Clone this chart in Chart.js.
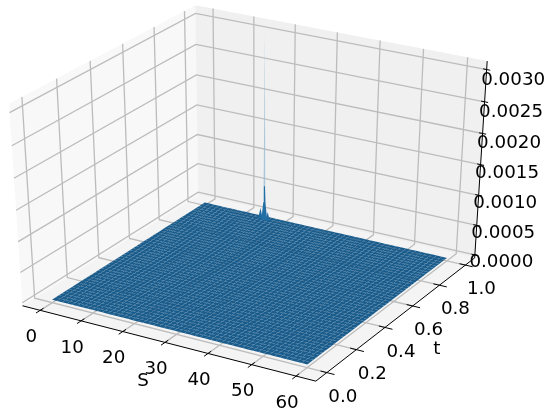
<!DOCTYPE html>
<html>
<head>
<meta charset="utf-8">
<style>
html,body{margin:0;padding:0;background:#fff;}
#wrap{width:558px;height:416px;}
</style>
<script src="https://cdn.jsdelivr.net/npm/chart.js@4/dist/chart.umd.min.js"></script>
</head>
<body>
<div id="wrap"><canvas id="chart" width="558" height="416"></canvas></div>
<script>
// values
let sTicks = [0,10,20,30,40,50,60];
let tTicks = [0.0,0.2,0.4,0.6,0.8,1.0];
let zTicks = [0,0.0005,0.001,0.0015,0.002,0.0025,0.003];
let sLabels = ["0","10","20","30","40","50","60"];
let tLabels = ["0.0","0.2","0.4","0.6","0.8","1.0"];
let zLabels = ["0.0000","0.0005","0.0010","0.0015","0.0020","0.0025","0.0030"];

// mesh nodes of the surface
let meshS = [0,1.22,2.45,3.67,4.9,6.12,7.35,8.57,9.8,11.02,12.24,13.47,14.69,15.92,17.14,18.37,19.59,20.82,22.04,23.27,24.49,25.71,26.94,28.16,29.39,30.61,31.84,33.06,34.29,35.51,36.73,37.96,39.18,40.41,41.63,42.86,44.08,45.31,46.53,47.76,48.98,50.2,51.43,52.65,53.88,55.1,56.33,57.55,58.78,60];
let meshT = [0,0.02,0.041,0.061,0.082,0.102,0.122,0.143,0.163,0.184,0.204,0.224,0.245,0.265,0.286,0.306,0.327,0.347,0.367,0.388,0.408,0.429,0.449,0.469,0.49,0.51,0.531,0.551,0.571,0.592,0.612,0.633,0.653,0.673,0.694,0.714,0.735,0.755,0.776,0.796,0.816,0.837,0.857,0.878,0.898,0.918,0.939,0.959,0.98,1];

// the spike near the back edge, the rest of the surface sits on zero
let spikeT = 0.97;
let paleSpikeS = [16.05,16.3,16.55];
let paleSpikeZ = [0,0.00304,0];
let bodySpikeS = [15.55,16.03,16.17,16.43,16.57,17.05];
let bodySpikeZ = [0,0.0003,0.00058,0.00058,0.0003,0];
let leftBumpS = [14.7,15.35,15.9];
let leftBumpZ = [0,0.00019,0];
let rightBumpS = [16.7,17.15,17.7];
let rightBumpZ = [0,0.00015,0];

let sRange = [-4.375,64.375];
let tRange = [-0.0729,1.0729];
let zRange = [-0.00005,0.00313];

let paneLeft = "#f8f8f8";
let paneBack = "#f0f0f0";
let paneFloor = "#f4f4f4";
let gridColor = "#bcbcbc";
let surfaceColor = "#1a5c8c";

// view of the axes box
let elev = 30 * Math.PI / 180;
let azim = -59.5 * Math.PI / 180;
let dist = 8;
let boxZ = 0.895;
let scaleX = 2715, scaleY = 2056, originX = 252.8, originY = 184.5;

function project(s, t, z){
  let x = (s - sRange[0]) / (sRange[1] - sRange[0]) - 0.5;
  let y = (t - tRange[0]) / (tRange[1] - tRange[0]) - 0.5;
  let h = ((z - zRange[0]) / (zRange[1] - zRange[0]) - 0.5) * boxZ;
  let wx = Math.cos(elev) * Math.cos(azim), wy = Math.cos(elev) * Math.sin(azim), wz = Math.sin(elev);
  let ux = -wy / Math.cos(elev), uy = wx / Math.cos(elev);
  let vx = -wz * uy, vy = wz * ux, vz = wx * uy - wy * ux;
  let d = dist - (x * wx + y * wy + h * wz);
  return {
    x: originX + scaleX * (x * ux + y * uy) / d,
    y: originY - scaleY * (x * vx + y * vy + h * vz) / d
  };
}

let datasets = [];

function addLine(points, color, width){
  datasets.push({data: points, showLine: true, borderColor: color, borderWidth: width, pointRadius: 0, fill: false, tension: 0});
}

function addShape(points, color){
  datasets.push({data: points, showLine: true, borderWidth: 0, borderColor: "transparent", backgroundColor: color, pointRadius: 0, fill: "shape", tension: 0});
}

function addSpike(sList, zList, color){
  let pts = sList.map(function(s, i){
    return project(s, spikeT, zList[i]);
  });
  pts.push(pts[0]);
  addShape(pts, color);
}

// panes
let s0 = sRange[0], s1 = sRange[1], t0 = tRange[0], t1 = tRange[1], z0 = zRange[0], z1 = zRange[1];
addShape([project(s0,t0,z0),project(s0,t1,z0),project(s0,t1,z1),project(s0,t0,z1),project(s0,t0,z0)], paneLeft);
addShape([project(s0,t1,z0),project(s1,t1,z0),project(s1,t1,z1),project(s0,t1,z1),project(s0,t1,z0)], paneBack);
addShape([project(s0,t0,z0),project(s1,t0,z0),project(s1,t1,z0),project(s0,t1,z0),project(s0,t0,z0)], paneFloor);

// grid on the panes
sTicks.forEach(function(s){
  addLine([project(s,t0,z0),project(s,t1,z0),project(s,t1,z1)], gridColor, 1.3);
});
tTicks.forEach(function(t){
  addLine([project(s0,t,z1),project(s0,t,z0),project(s1,t,z0)], gridColor, 1.3);
});
zTicks.forEach(function(z){
  addLine([project(s0,t0,z),project(s0,t1,z),project(s1,t1,z)], gridColor, 1.3);
});

// axis lines and tick marks
addLine([project(s0,t0,z0),project(s1,t0,z0)], "#000", 1);
addLine([project(s1,t0,z0),project(s1,t1,z0)], "#000", 1);
addLine([project(s1,t1,z0),project(s1,t1,z1)], "#000", 1);
sTicks.forEach(function(s){
  addLine([project(s,t0 + 0.02,z0),project(s,t0 - 0.025,z0)], "#000", 1);
});
tTicks.forEach(function(t){
  addLine([project(s1 - 1.4,t,z0),project(s1 + 1.7,t,z0)], "#000", 1);
});
zTicks.forEach(function(z){
  addLine([project(s1 - 0.8,t1,z),project(s1 + 0.8,t1,z)], "#000", 1);
});

// surface, back rows first
for(let j = meshT.length - 2; j >= 0; j--){
  for(let i = 0; i < meshS.length - 1; i++){
    addShape([
      project(meshS[i],meshT[j],0),
      project(meshS[i+1],meshT[j],0),
      project(meshS[i+1],meshT[j+1],0),
      project(meshS[i],meshT[j+1],0),
      project(meshS[i],meshT[j],0)
    ], surfaceColor);
  }
}

addSpike(paleSpikeS, paleSpikeZ, "rgba(150,185,210,0.75)");
addSpike(leftBumpS, leftBumpZ, "#1f6a9e");
addSpike(rightBumpS, rightBumpZ, "#1f6a9e");
addSpike(bodySpikeS, bodySpikeZ, "#226fa5");

// Chart.js paints the first dataset last
datasets.reverse();

// tick labels and axis titles, drawn at projected spots
let labelPlugin = {
  id: "axisLabels",
  afterDatasetsDraw: function(chart){
    let ctx = chart.ctx;
    let xs = chart.scales.x, ys = chart.scales.y;
    ctx.save();
    ctx.fillStyle = "#000";
    ctx.font = "18.3px 'DejaVu Sans'";
    ctx.textAlign = "center";
    ctx.textBaseline = "middle";
    function put(text, p, dx, dy){
      ctx.fillText(text, xs.getPixelForValue(p.x) + dx, ys.getPixelForValue(p.y) + dy);
    }
    sTicks.forEach(function(s, i){
      put(sLabels[i], project(s,t0,z0), -9, 27);
    });
    tTicks.forEach(function(t, i){
      put(tLabels[i], project(s1,t,z0), 16, 24.5);
    });
    zTicks.forEach(function(z, i){
      put(zLabels[i], project(s1,t1,z), 26.5, 7 + i * 0.67);
    });
    put("S", project(30,t0,z0), -22, 38.5);
    put("t", project(s1,0.5,z0), 38, 33);
    ctx.restore();
  }
};

new Chart(document.getElementById("chart"), {
  type: "scatter",
  data: {datasets: datasets},
  options: {
    responsive: false,
    animation: false,
    events: [],
    layout: {padding: 0},
    plugins: {legend: {display: false}, tooltip: {enabled: false}},
    scales: {
      x: {type: "linear", min: 0, max: 558, display: false},
      y: {type: "linear", min: 0, max: 416, reverse: true, display: false}
    }
  },
  plugins: [labelPlugin]
});
</script>
</body>
</html>
